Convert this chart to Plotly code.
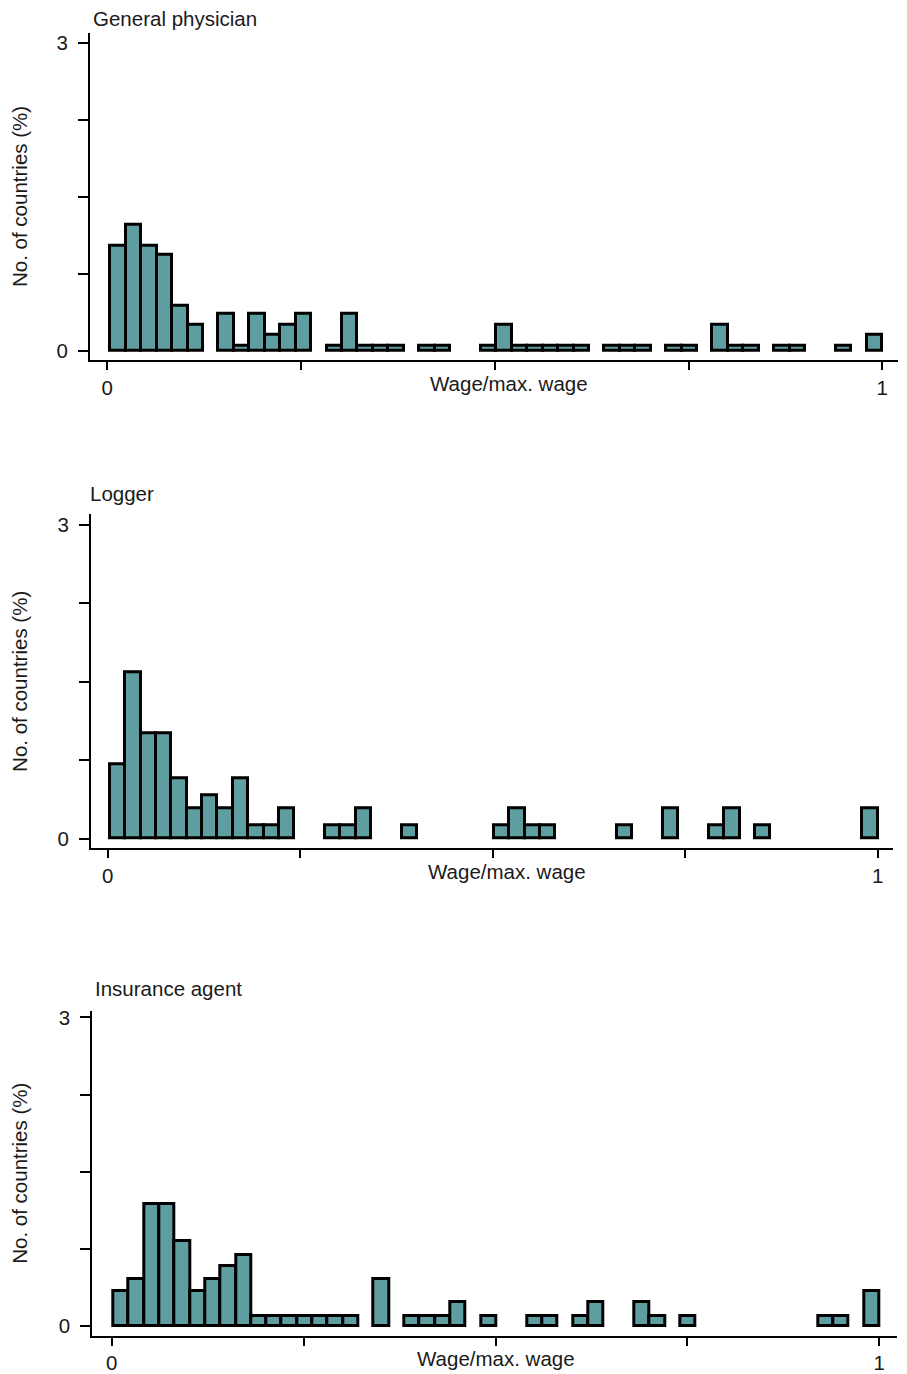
import plotly.graph_objects as go

# ---------------- data ----------------
panel_titles = ["General physician", "Logger", "Insurance agent"]
x_title = "Wage/max. wage"
y_title = "No. of countries (%)"
x_tick_vals = [0, 0.25, 0.5, 0.75, 1]
x_tick_text = ["0", "", "", "", "1"]
y_tick_vals = [0, 0.75, 1.5, 2.25, 3]
y_tick_text = ["0", "", "", "", "3"]

n_bins = 50
bin_start = [0.004, 0.003, 0.002]   # lowest observed wage ratio per panel (histogram start)

# bar heights (%) per bin, 50 bins each
physician_pct = [
    1.03, 1.23, 1.03, 0.94, 0.44, 0.26, 0.00, 0.36, 0.056, 0.36,
    0.16, 0.26, 0.36, 0.00, 0.056, 0.36, 0.056, 0.056, 0.056, 0.00,
    0.056, 0.056, 0.00, 0.00, 0.056, 0.26, 0.056, 0.056, 0.056, 0.056,
    0.056, 0.00, 0.056, 0.056, 0.056, 0.00, 0.056, 0.056, 0.00, 0.26,
    0.056, 0.056, 0.00, 0.056, 0.056, 0.00, 0.00, 0.056, 0.00, 0.157,
]
logger_pct = [
    0.71, 1.59, 1.01, 1.01, 0.58, 0.29, 0.42, 0.29, 0.58, 0.128,
    0.128, 0.29, 0.00, 0.00, 0.128, 0.128, 0.29, 0.00, 0.00, 0.128,
    0.00, 0.00, 0.00, 0.00, 0.00, 0.128, 0.295, 0.128, 0.128, 0.00,
    0.00, 0.00, 0.00, 0.128, 0.00, 0.00, 0.295, 0.00, 0.00, 0.128,
    0.295, 0.00, 0.128, 0.00, 0.00, 0.00, 0.00, 0.00, 0.00, 0.295,
]
insurance_pct = [
    0.345, 0.464, 1.19, 1.19, 0.826, 0.345, 0.464, 0.585, 0.698, 0.10,
    0.10, 0.10, 0.10, 0.10, 0.10, 0.10, 0.00, 0.464, 0.00, 0.10,
    0.10, 0.10, 0.233, 0.00, 0.10, 0.00, 0.00, 0.10, 0.10, 0.00,
    0.10, 0.233, 0.00, 0.00, 0.233, 0.10, 0.00, 0.10, 0.00, 0.00,
    0.00, 0.00, 0.00, 0.00, 0.00, 0.00, 0.10, 0.10, 0.00, 0.345,
]
panel_values = [physician_pct, logger_pct, insurance_pct]

# ---------------- layout geometry (page pixels) ----------------
OFF = 8  # default page body margin; figure is drawn starting at (8, 8)
W, H = 907 - OFF, 1374 - OFF
# per panel: axis left, axis right, x of value 0, x of value 1,
#            axis top, axis bottom, y of value 0, y of value 3
geom = [
    dict(l=90.0, r=898.0, x0=107.3, x1=882.3, t=28.0, b=357.5, y0=348.5, y3=38.5),
    dict(l=91.0, r=893.0, x0=107.7, x1=877.7, t=512.7, b=849.0, y0=839.3, y3=523.3),
    dict(l=92.3, r=897.0, x0=111.7, x1=879.3, t=1012.5, b=1339.5, y0=1330.0, y3=1019.0),
]
title_pos = [(91, 14), (88, 492), (93, 990)]
xtitle_pos = [(509, 381), (507, 872), (496, 1362)]


def px(x):
    return (x - OFF) / W


def py(y):
    return 1 - (y - OFF) / H


FILL = "#5F9EA0"
INK = "#1a1a1a"
FONT = "Liberation Sans"
FS = 20.5

fig = go.Figure()
layout = dict(
    width=W, height=H, margin=dict(l=0, r=0, t=0, b=0, pad=0),
    paper_bgcolor="white", plot_bgcolor="white", showlegend=False,
    font=dict(family=FONT, size=FS, color=INK), bargap=0, annotations=[],
)

for i, g in enumerate(geom):
    vals = panel_values[i]
    s = bin_start[i]
    w = (1 - s) / n_bins
    centers = [s + w * (k + 0.5) for k in range(n_bins)]
    xs = [c for c, v in zip(centers, vals) if v > 0]
    ys = [v for v in vals if v > 0]
    sfx = "" if i == 0 else str(i + 1)
    fig.add_trace(go.Bar(
        x=xs, y=ys, width=[w] * len(xs),
        marker=dict(color=FILL, line=dict(color="black", width=3)),
        xaxis="x" + sfx, yaxis="y" + sfx, hoverinfo="skip",
    ))
    pxu = g["x1"] - g["x0"]
    pyu = (g["y0"] - g["y3"]) / 3.0
    xr = [(g["l"] - g["x0"]) / pxu, 1 + (g["r"] - g["x1"]) / pxu]
    yr = [-(g["b"] - g["y0"]) / pyu, 3 + (g["y3"] - g["t"]) / pyu]
    layout["xaxis" + sfx] = dict(
        domain=[px(g["l"]), px(g["r"])], range=xr, anchor="y" + sfx,
        showgrid=False, zeroline=False, showline=True, linecolor="black", linewidth=2,
        ticks="outside", ticklen=8, tickwidth=2, tickcolor="black",
        tickvals=x_tick_vals, ticktext=x_tick_text,
        tickfont=dict(family=FONT, size=FS, color=INK),
    )
    layout["yaxis" + sfx] = dict(
        domain=[py(g["b"]), py(g["t"])], range=yr, anchor="x" + sfx,
        showgrid=False, zeroline=False, showline=True, linecolor="black", linewidth=2,
        ticks="outside", ticklen=10, tickwidth=2, tickcolor="black",
        tickvals=y_tick_vals, ticktext=y_tick_text, ticklabelstandoff=6,
        tickfont=dict(family=FONT, size=FS, color=INK),
    )
    # panel title
    tx, ty = title_pos[i]
    layout["annotations"].append(dict(
        text=panel_titles[i], xref="paper", yref="paper", x=px(tx), y=py(ty),
        xanchor="left", yanchor="middle", showarrow=False,
        font=dict(family=FONT, size=FS, color=INK)))
    # x title
    ax, ay = xtitle_pos[i]
    layout["annotations"].append(dict(
        text=x_title, xref="paper", yref="paper", x=px(ax), y=py(ay),
        xanchor="center", yanchor="middle", showarrow=False,
        font=dict(family=FONT, size=FS, color=INK)))
    # y title
    layout["annotations"].append(dict(
        text=y_title, xref="paper", yref="paper", x=px(19.5),
        y=py((g["t"] + g["b"]) / 2), textangle=-90,
        xanchor="center", yanchor="middle", showarrow=False,
        font=dict(family=FONT, size=FS, color=INK)))

fig.update_layout(**layout)
fig.write_html("out.html")
